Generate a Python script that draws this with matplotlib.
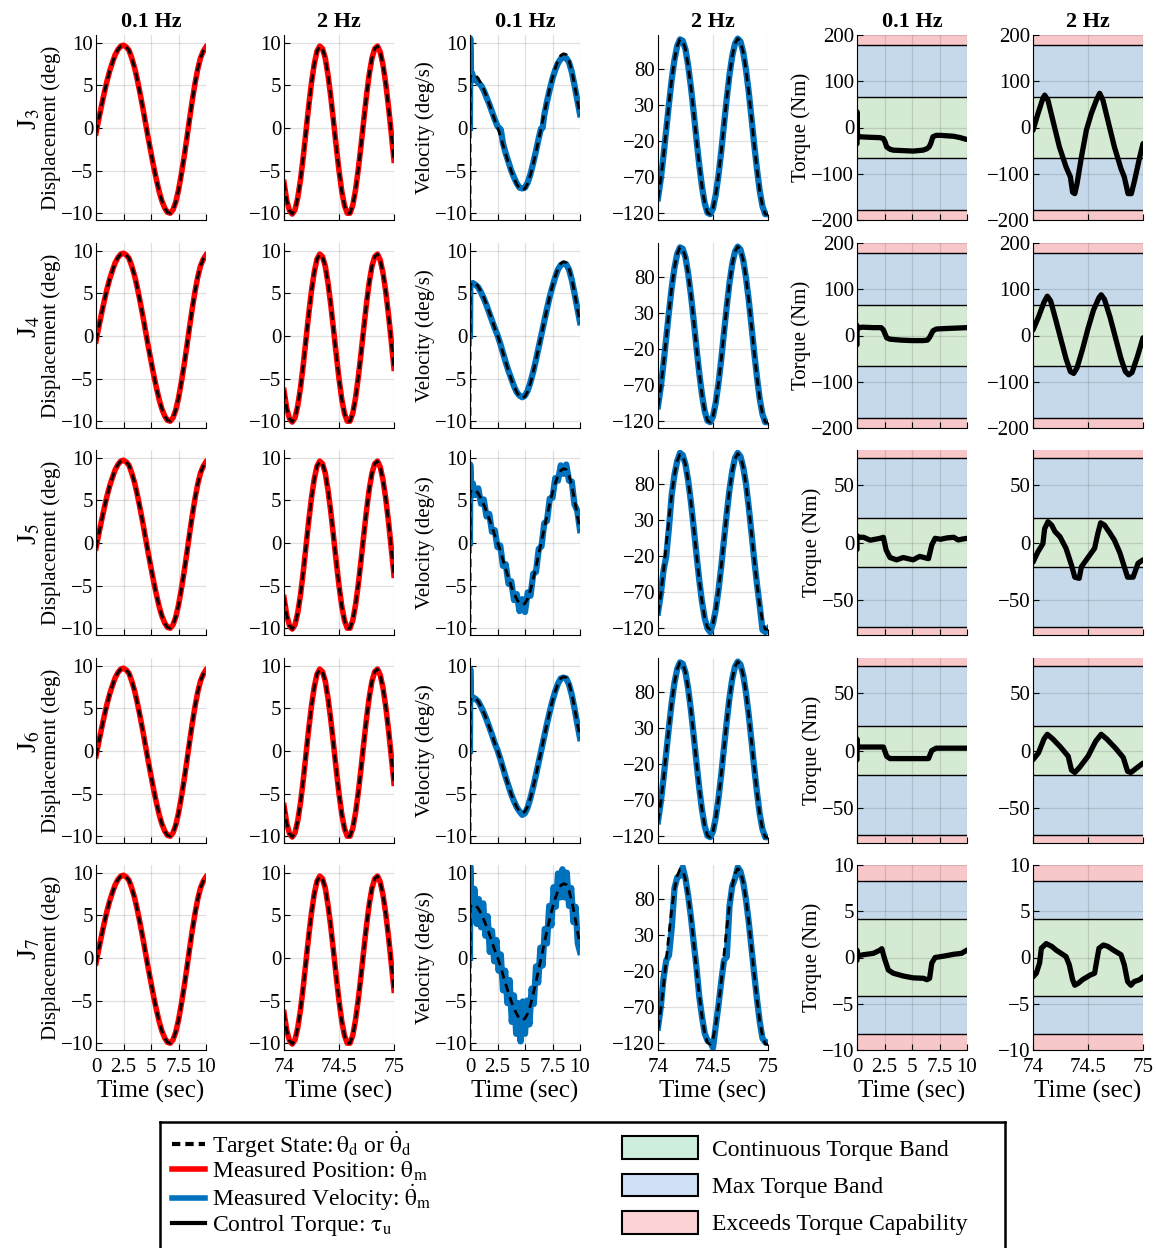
import numpy as np
import matplotlib.pyplot as plt
from matplotlib.lines import Line2D
from matplotlib.patches import Patch

plt.rcParams["font.family"] = ["Liberation Serif", "DejaVu Serif"]
plt.rcParams["mathtext.fontset"] = "stix"

# ------------------------------------------------------------
# Data
# ------------------------------------------------------------
joints = ["J$_3$", "J$_4$", "J$_5$", "J$_6$", "J$_7$"]

# displacement, 0.1 Hz (target and measured overlap)
disp_slow_t = [0, 0.25, 0.5, 0.75, 1.0, 1.25, 1.5, 1.75, 2.0, 2.25, 2.5, 2.75, 3.0, 3.25,
               3.5, 3.75, 4.0, 4.25, 4.5, 4.75, 5.0, 5.25, 5.5, 5.75, 6.0, 6.25, 6.5, 6.75,
               7.0, 7.25, 7.5, 7.75, 8.0, 8.25, 8.5, 8.75, 9.0, 9.25, 9.5, 9.75, 10.0]
disp_slow = [-0.6, 1.0, 2.6, 4.1, 5.5, 6.7, 7.7, 8.6, 9.2, 9.6, 9.7, 9.5, 9.1, 8.2,
             7.1, 5.7, 4.1, 2.4, 0.6, -1.2, -2.9, -4.6, -6.1, -7.5, -8.6, -9.4, -9.9, -10.0,
             -9.6, -8.7, -7.3, -5.5, -3.5, -1.3, 1.0, 3.2, 5.2, 6.9, 8.2, 9.0, 9.5]

# displacement, 2 Hz
disp_fast_t = [74.0, 74.025, 74.05, 74.075, 74.1, 74.125, 74.15, 74.175, 74.2, 74.225,
               74.25, 74.275, 74.3, 74.325, 74.35, 74.375, 74.4, 74.425, 74.45, 74.475,
               74.5, 74.525, 74.55, 74.575, 74.6, 74.625, 74.65, 74.675, 74.7, 74.725,
               74.75, 74.775, 74.8, 74.825, 74.85, 74.875, 74.9, 74.925, 74.95, 74.975, 75.0]
disp_fast = [-6.4, -8.5, -9.7, -10.1, -9.6, -8.2, -6.1, -3.4, -0.4, 2.6,
             5.3, 7.5, 9.0, 9.6, 9.3, 8.2, 6.2, 3.7, 0.8, -2.2,
             -5.0, -7.4, -9.1, -10.0, -10.0, -9.1, -7.3, -4.9, -2.1, 0.9,
             3.8, 6.3, 8.2, 9.3, 9.6, 8.9, 7.4, 5.2, 2.5, -0.6, -3.8]

# velocity target, 0.1 Hz
vel_slow_t = [0, 0.02, 0.25, 0.5, 0.75, 1.0, 1.25, 1.5, 1.75, 2.0, 2.25, 2.5, 2.75, 3.0,
              3.25, 3.5, 3.75, 4.0, 4.25, 4.5, 4.75, 5.0, 5.25, 5.5, 5.75, 6.0, 6.25, 6.5,
              6.75, 7.0, 7.25, 7.5, 7.75, 8.0, 8.25, 8.5, 8.75, 9.0, 9.25, 9.5, 9.75, 10.0]
vel_slow = [-11, 6.0, 6.3, 6.2, 5.8, 5.2, 4.5, 3.7, 2.8, 1.9, 0.9, 0.1, -0.9, -2.0,
            -3.1, -4.1, -5.1, -5.9, -6.6, -7.1, -7.3, -7.1, -6.5, -5.5, -4.2, -2.8, -1.3, 0.2,
            1.7, 3.2, 4.6, 5.9, 7.0, 7.9, 8.5, 8.7, 8.6, 7.9, 6.7, 5.1, 3.3, 1.5]

# measured velocity, 0.1 Hz
vel_j3_t = [0, 0.02, 0.1, 0.2, 0.35, 0.5, 0.75, 1.0, 1.25, 1.5, 1.75, 2.0, 2.25, 2.5, 2.65,
            2.8, 3.0, 3.25, 3.5, 3.75, 4.0, 4.25, 4.5, 4.75, 5.0, 5.25, 5.5, 5.75, 6.0, 6.25,
            6.45, 6.6, 6.75, 7.0, 7.25, 7.5, 7.75, 8.0, 8.25, 8.5, 8.75, 9.0, 9.25, 9.5, 9.75, 10.0]
vel_j3 = [0, 10.5, 6.0, 6.4, 5.6, 5.8, 5.3, 5.0, 4.4, 3.6, 2.8, 1.9, 1.0, 0.2, 0.0,
          -0.2, -1.8, -3.0, -4.0, -5.0, -5.8, -6.5, -7.0, -7.1, -7.0, -6.4, -5.4, -4.1, -2.7, -1.2,
          -0.1, 0.0, 1.5, 3.1, 4.5, 5.8, 6.8, 7.6, 8.1, 8.3, 8.2, 7.7, 6.6, 5.0, 3.3, 1.6]
vel_j4_t = [0, 0.03, 0.25, 0.5, 0.75, 1.0, 1.25, 1.5, 1.75, 2.0, 2.25, 2.5, 2.75, 3.0,
            3.25, 3.5, 3.75, 4.0, 4.25, 4.5, 4.75, 5.0, 5.25, 5.5, 5.75, 6.0, 6.25, 6.5,
            6.75, 7.0, 7.25, 7.5, 7.75, 8.0, 8.25, 8.5, 8.75, 9.0, 9.25, 9.5, 9.75, 10.0]
vel_j4 = [0, 6.1, 6.2, 6.0, 5.7, 5.1, 4.4, 3.6, 2.7, 1.8, 0.9, 0.1, -0.9, -2.0,
          -3.1, -4.1, -5.0, -5.9, -6.6, -7.0, -7.2, -7.0, -6.4, -5.4, -4.2, -2.8, -1.3, 0.2,
          1.7, 3.2, 4.6, 5.8, 6.9, 7.8, 8.3, 8.5, 8.4, 7.8, 6.6, 5.0, 3.3, 1.6]
vel_j5_t = [0, 0.02, 0.12, 0.25, 0.5, 0.75, 1.0, 1.25, 1.5, 1.75, 2.0, 2.25, 2.5, 2.75,
            3.0, 3.25, 3.5, 3.75, 4.0, 4.25, 4.5, 4.75, 5.0, 5.25, 5.5, 5.75, 6.0, 6.25,
            6.5, 6.75, 7.0, 7.25, 7.5, 7.75, 8.0, 8.25, 8.5, 8.75, 9.0, 9.25, 9.5, 9.75, 10.0]
vel_j5 = [0, 9.2, 5.5, 7.0, 5.6, 6.4, 4.6, 5.1, 3.1, 3.4, 1.3, 1.5, -0.5, -0.3,
          -2.7, -2.5, -4.8, -4.5, -6.7, -6.0, -8.0, -6.6, -8.1, -5.8, -6.2, -3.6, -3.4, -0.7,
          -0.4, 2.3, 2.6, 5.2, 5.3, 7.6, 7.3, 9.1, 8.1, 9.2, 7.3, 7.2, 4.5, 3.8, 1.5]
vel_j6_t = [0, 0.02, 0.1, 0.25, 0.5, 0.75, 1.0, 1.25, 1.5, 1.75, 2.0, 2.25, 2.5, 2.75, 3.0,
            3.25, 3.5, 3.75, 4.0, 4.25, 4.5, 4.75, 5.0, 5.25, 5.5, 5.75, 6.0, 6.25, 6.5,
            6.75, 7.0, 7.25, 7.5, 7.75, 8.0, 8.25, 8.5, 8.75, 9.0, 9.25, 9.5, 9.75, 10.0]
vel_j6 = [0, 9.6, 6.0, 6.3, 6.1, 5.8, 5.2, 4.5, 3.7, 2.8, 1.9, 0.9, 0.1, -0.9, -2.0,
          -3.1, -4.1, -5.1, -5.9, -6.6, -7.1, -7.5, -7.3, -6.6, -5.5, -4.2, -2.8, -1.3, 0.2,
          1.7, 3.2, 4.6, 5.9, 7.0, 7.9, 8.5, 8.6, 8.5, 7.8, 6.6, 5.0, 3.2, 1.5]
vel_j7_t = [0, 0.02, 0.2, 0.4, 0.6, 0.8, 1.0, 1.2, 1.4, 1.6, 1.8, 2.0, 2.2, 2.4, 2.6, 2.8,
            3.0, 3.2, 3.4, 3.6, 3.8, 4.0, 4.2, 4.4, 4.6, 4.8, 5.0, 5.2, 5.4, 5.6, 5.8,
            6.0, 6.2, 6.4, 6.6, 6.8, 7.0, 7.2, 7.4, 7.6, 7.8, 8.0, 8.2, 8.4, 8.6, 8.8,
            9.0, 9.2, 9.4, 9.6, 9.8, 10.0]
vel_j7 = [0, 10.8, 4.5, 8.1, 4.0, 6.9, 3.6, 6.4, 2.6, 4.9, 0.7, 3.2, -0.4, 2.1, -1.5, 0.4,
          -3.8, -1.5, -5.3, -2.6, -7.5, -4.4, -8.9, -5.3, -9.8, -5.1, -8.9, -5.0, -7.8, -3.6, -5.4,
          -1.0, -2.9, 1.2, -0.9, 3.4, 1.7, 6.1, 3.8, 8.3, 6.0, 9.9, 7.1, 10.4, 7.1, 10.0,
          6.1, 8.2, 4.2, 6.0, 1.7, 0.7]

# velocity, 2 Hz (target, and measured where it departs from it)
vel_fast = [-99, -73, -40, -4, 32, 66, 93, 112, 121, 119, 107, 84, 54, 19, -18, -53, -83, -106,
            -119, -121, -113, -94, -67, -34, 3, 39, 72, 98, 115, 122, 118, 103, 79, 48, 12,
            -25, -59, -89, -110, -121, -121]
vel_fast_j5 = [-98, -73, -40, -20, 20, 66, 93, 112, 123, 120, 107, 84, 54, 19, -18, -53, -83,
               -106, -120, -125, -113, -94, -67, -34, 3, 39, 72, 98, 116, 123, 118, 103, 80,
               48, 12, -25, -59, -89, -122, -125, -120]
vel_fast_j7 = [-98, -70, -30, -5, 2, 40, 95, 110, 112, 124, 108, 84, 54, 19, -15, -55, -83,
               -106, -116, -118, -126, -96, -67, -34, -5, 0, 70, 98, 108, 124, 118, 103, 79,
               48, 12, -24, -59, -90, -113, -118, -119]

# control torque, 0.1 Hz
tau_j3_slow_t = [0, 0, 0.05, 0.2, 1.0, 2.1, 2.4, 2.55, 2.7, 3.0, 3.3, 4.2, 5.1, 6.0, 6.35,
                 6.55, 6.7, 6.9, 7.2, 7.6, 8.2, 8.8, 9.4, 10.0]
tau_j3_slow = [-35, 34, -22, -20, -21, -22, -24, -31, -42, -47, -49, -50, -51, -49, -46,
               -42, -35, -20, -17, -17, -18, -19, -22, -26]
tau_j4_slow_t = [0, 0, 0.05, 0.5, 1.5, 2.2, 2.4, 2.7, 3.0, 4.0, 5.0, 6.0, 6.4, 6.6, 6.9,
                 7.2, 8.0, 9.0, 10.0]
tau_j4_slow = [-20, 22, 16, 18, 17, 17, 12, -5, -8, -10, -11, -11, -10, -4, 10, 14, 15, 16, 17]
tau_j5_slow_t = [0, 0, 0.05, 0.6, 1.2, 2.1, 2.4, 2.65, 3.0, 3.6, 4.2, 5.1, 5.7, 6.5, 6.8,
                 7.1, 7.6, 8.2, 8.8, 9.2, 9.6, 10.0]
tau_j5_slow = [-6, 6, 4.5, 4.5, 2, 3.6, 4.5, -6.5, -13, -15, -13, -15, -12, -14, -2, 3.6,
               2.8, 4, 4.5, 2.2, 3, 3.6]
tau_j6_slow_t = [0, 0, 0.05, 1.0, 2.0, 2.4, 2.7, 3.0, 4.0, 5.0, 6.0, 6.5, 6.8, 7.2, 8.5, 10.0]
tau_j6_slow = [-8, 10, 3, 3, 3, 3, -5, -7, -7, -7, -7, -7, 0, 2, 2, 2]
tau_j7_slow_t = [0, 0, 0.05, 0.6, 1.5, 2.1, 2.25, 2.55, 2.85, 3.3, 4.2, 5.1, 6.05, 6.35,
                 6.6, 6.8, 7.1, 7.9, 8.8, 9.5, 10.0]
tau_j7_slow = [-0.3, 0.8, 0.2, 0.3, 0.45, 0.8, 0.95, -0.3, -1.35, -1.7, -2.0, -2.2, -2.25,
               -2.4, -2.25, -0.6, 0.0, 0.15, 0.35, 0.45, 0.8]

# control torque, 2 Hz
tau_j3_fast_t = [74.0, 74.045, 74.09, 74.106, 74.136, 74.18, 74.24, 74.3, 74.34, 74.36, 74.38,
                 74.4, 74.44, 74.485, 74.53, 74.576, 74.606, 74.636, 74.68, 74.74, 74.8,
                 74.83, 74.864, 74.894, 74.924, 74.97, 75.0]
tau_j3_fast = [-6, 30, 63, 70, 59, 16, -42, -85, -107, -140, -143, -122, -64, -6, 30, 59,
               74, 59, 16, -42, -89, -107, -143, -143, -114, -64, -35]
tau_j4_fast_t = [74.0, 74.05, 74.1, 74.13, 74.16, 74.2, 74.25, 74.3, 74.34, 74.37, 74.4,
                 74.45, 74.5, 74.55, 74.6, 74.62, 74.65, 74.7, 74.75, 74.8, 74.84, 74.87,
                 74.9, 74.95, 75.0]
tau_j4_fast = [12, 40, 72, 85, 75, 40, -5, -50, -78, -82, -70, -30, 15, 55, 82, 88, 78, 40,
               -5, -50, -78, -85, -80, -45, -5]
tau_j5_fast_t = [74.0, 74.045, 74.09, 74.106, 74.136, 74.17, 74.2, 74.245, 74.3, 74.35,
                 74.38, 74.42, 74.44, 74.47, 74.515, 74.56, 74.59, 74.615, 74.65, 74.7,
                 74.74, 74.79, 74.83, 74.86, 74.91, 74.955, 75.0]
tau_j5_fast = [-17, -8, -1, 12, 18, 15, 9.4, 5, -5, -19.6, -30, -31, -21, -17, -11, -5, 8,
               17, 15, 8, 2, -9, -21, -30, -30, -18, -15]
tau_j6_fast_t = [74.0, 74.05, 74.1, 74.13, 74.18, 74.25, 74.32, 74.35, 74.38, 74.42, 74.5,
                 74.57, 74.62, 74.67, 74.75, 74.82, 74.86, 74.89, 74.93, 75.0]
tau_j6_fast = [-8, -2, 10, 14, 10, 3, -5, -17, -19, -15, -5, 8, 14, 10, 2, -6, -18, -19, -16, -11]
tau_j7_fast_t = [74.0, 74.03, 74.06, 74.076, 74.12, 74.17, 74.21, 74.3, 74.33, 74.36, 74.38,
                 74.41, 74.45, 74.52, 74.56, 74.58, 74.6, 74.64, 74.68, 74.73, 74.8, 74.83,
                 74.86, 74.89, 74.92, 74.97, 75.0]
tau_j7_fast = [-2.1, -1.7, -0.6, 1.0, 1.5, 1.2, 0.8, 0.1, -0.8, -2.4, -3.0, -2.8, -2.4, -1.9,
               -1.7, -0.3, 1.0, 1.35, 1.2, 0.8, 0.3, -0.8, -2.6, -3.0, -2.6, -2.4, -2.1]

# torque bands per joint: continuous limit, max limit, axis limit
tau_cont = [67, 67, 21, 21, 4.2]
tau_max = [178, 178, 73.5, 73.5, 8.3]
tau_lim = [200, 200, 80, 80, 10]
tau_ticks = [[-200, -100, 0, 100, 200], [-200, -100, 0, 100, 200], [-50, 0, 50], [-50, 0, 50],
             [-10, -5, 0, 5, 10]]

# ------------------------------------------------------------
# Styles
# ------------------------------------------------------------
RED = "#ff0000"
BLUE = "#0072bd"
GREEN_BAND = "#d4ead3"
BLUE_BAND = "#c6d9ea"
RED_BAND = "#f7c7c9"

vel_meas = [(vel_j3_t, vel_j3), (vel_j4_t, vel_j4), (vel_j5_t, vel_j5),
            (vel_j6_t, vel_j6), (vel_j7_t, vel_j7)]
vel_fast_meas = [vel_fast, vel_fast, vel_fast_j5, vel_fast, vel_fast_j7]
tau_slow = [(tau_j3_slow_t, tau_j3_slow), (tau_j4_slow_t, tau_j4_slow), (tau_j5_slow_t, tau_j5_slow),
            (tau_j6_slow_t, tau_j6_slow), (tau_j7_slow_t, tau_j7_slow)]
tau_fast = [(tau_j3_fast_t, tau_j3_fast), (tau_j4_fast_t, tau_j4_fast), (tau_j5_fast_t, tau_j5_fast),
            (tau_j6_fast_t, tau_j6_fast), (tau_j7_fast_t, tau_j7_fast)]

W, H = 1156, 1248
col_left = [96, 284, 470, 658, 857, 1033]
col_w = 110
row_top = [35, 243, 450, 658, 865]
row_h = 185

TICK_FS = 15
LABEL_FS = 15
XLABEL_FS = 18

fig = plt.figure(figsize=(W / 100, H / 100), dpi=100)


def make_ax(r, c):
    ax = fig.add_axes([col_left[c] / W, 1 - (row_top[r] + row_h) / H, col_w / W, row_h / H])
    ax.spines["top"].set_visible(False)
    ax.spines["right"].set_visible(False)
    ax.tick_params(direction="in", length=4, labelsize=TICK_FS, pad=2)
    ax.tick_params(axis="x", pad=6)
    ax.grid(True, color="k", alpha=0.12, linewidth=0.9)
    if c in (0, 2, 4):
        ax.set_xlim(0, 10)
        ax.set_xticks([0, 2.5, 5, 7.5, 10])
        ax.set_xticklabels(["0", "2.5", "5", "7.5", "10"])
    else:
        ax.set_xlim(74, 75)
        ax.set_xticks([74, 74.5, 75])
        ax.set_xticklabels(["74", "74.5", "75"])
    if r < 4:
        ax.tick_params(labelbottom=False)
    else:
        ax.set_xlabel("Time (sec)", fontsize=XLABEL_FS, labelpad=2)
    if r == 0:
        ax.set_title("0.1 Hz" if c % 2 == 0 else "2 Hz", fontsize=16, fontweight="bold", pad=6)
    return ax


for r in range(5):
    # displacement 0.1 Hz
    ax = make_ax(r, 0)
    ax.set_axisbelow(True)
    ax.plot(disp_slow_t, disp_slow, color=RED, lw=4)
    ax.plot(disp_slow_t, disp_slow, color="k", lw=2, ls=(0, (3, 2)))
    ax.set_ylim(-10.8, 10.9)
    ax.set_yticks([-10, -5, 0, 5, 10])
    ax.set_ylabel("Displacement (deg)", fontsize=LABEL_FS, labelpad=0)

    # displacement 2 Hz
    ax = make_ax(r, 1)
    ax.set_axisbelow(True)
    ax.plot(disp_fast_t, disp_fast, color=RED, lw=4)
    ax.plot(disp_fast_t, disp_fast, color="k", lw=2, ls=(0, (3, 2)))
    ax.set_ylim(-10.8, 10.9)
    ax.set_yticks([-10, -5, 0, 5, 10])

    # velocity 0.1 Hz
    ax = make_ax(r, 2)
    ax.set_axisbelow(True)
    ax.plot(vel_meas[r][0], vel_meas[r][1], color=BLUE, lw=4.5)
    ax.plot(vel_slow_t, vel_slow, color="k", lw=2, ls=(0, (3, 2)))
    ax.set_ylim(-10.8, 10.9)
    ax.set_yticks([-10, -5, 0, 5, 10])
    ax.set_ylabel("Velocity (deg/s)", fontsize=LABEL_FS, labelpad=0)

    # velocity 2 Hz
    ax = make_ax(r, 3)
    ax.set_axisbelow(True)
    ax.plot(disp_fast_t, vel_fast_meas[r], color=BLUE, lw=4.5)
    ax.plot(disp_fast_t, vel_fast, color="k", lw=2, ls=(0, (3, 2)))
    ax.set_ylim(-129, 127)
    ax.set_yticks([-120, -70, -20, 30, 80])

    # torque 0.1 Hz and 2 Hz
    for c, data in ((4, tau_slow[r]), (5, tau_fast[r])):
        ax = make_ax(r, c)
        ax.set_axisbelow("line")
        lim, mx, ct = tau_lim[r], tau_max[r], tau_cont[r]
        ax.axhspan(mx, lim, color=RED_BAND, lw=0)
        ax.axhspan(-lim, -mx, color=RED_BAND, lw=0)
        ax.axhspan(ct, mx, color=BLUE_BAND, lw=0)
        ax.axhspan(-mx, -ct, color=BLUE_BAND, lw=0)
        ax.axhspan(-ct, ct, color=GREEN_BAND, lw=0)
        for y in (mx, ct, -ct, -mx):
            ax.axhline(y, color="k", lw=1.0, zorder=1.6)
        ax.plot(data[0], data[1], color="k", lw=3.8, solid_capstyle="round")
        ax.set_ylim(-lim, lim)
        ax.set_yticks(tau_ticks[r])
        if c == 4:
            ax.set_ylabel("Torque (Nm)", fontsize=LABEL_FS, labelpad=0)

    fig.text(30 / W, 1 - (row_top[r] + 84) / H, joints[r], rotation=90,
             fontsize=20, ha="center", va="center")

# ------------------------------------------------------------
# Legend
# ------------------------------------------------------------
lax = fig.add_axes([160 / W, -0.01, 845 / W, (1248 - 1122) / H + 0.01])
lax.set_xticks([])
lax.set_yticks([])
for s in lax.spines.values():
    s.set_linewidth(1.8)

line_handles = [
    Line2D([], [], color="k", lw=3, ls=(0, (2, 1.2))),
    Line2D([], [], color=RED, lw=4),
    Line2D([], [], color=BLUE, lw=4),
    Line2D([], [], color="k", lw=3),
]
line_labels = [
    r"Target State:$\,\mathrm{\theta}_{\rm d}$ or $\dot{\mathrm{\theta}}_{\rm d}$",
    r"Measured Position: $\mathrm{\theta}_{\rm m}$",
    r"Measured Velocity: $\dot{\mathrm{\theta}}_{\rm m}$",
    r"Control Torque: $\mathrm{\tau}_{\rm u}$",
]
leg1 = lax.legend(line_handles, line_labels, loc="upper left", bbox_to_anchor=(0.0, 1.03),
                  frameon=False, fontsize=17, handlelength=1.4, handletextpad=0.3,
                  labelspacing=0.0, borderaxespad=0.1)
lax.add_artist(leg1)

patch_handles = [
    Patch(facecolor="#cdeedd", edgecolor="k", lw=1.5),
    Patch(facecolor="#cfe0f7", edgecolor="k", lw=1.5),
    Patch(facecolor="#fcd3d5", edgecolor="k", lw=1.5),
]
patch_labels = ["Continuous Torque Band", "Max Torque Band", "Exceeds Torque Capability"]
lax.legend(patch_handles, patch_labels, loc="upper left", bbox_to_anchor=(0.53, 1.0),
           frameon=False, fontsize=17, handlelength=3.2, handleheight=1.1,
           handletextpad=0.6, labelspacing=0.55, borderaxespad=0.2)

fig.savefig("out.png", dpi=100)
